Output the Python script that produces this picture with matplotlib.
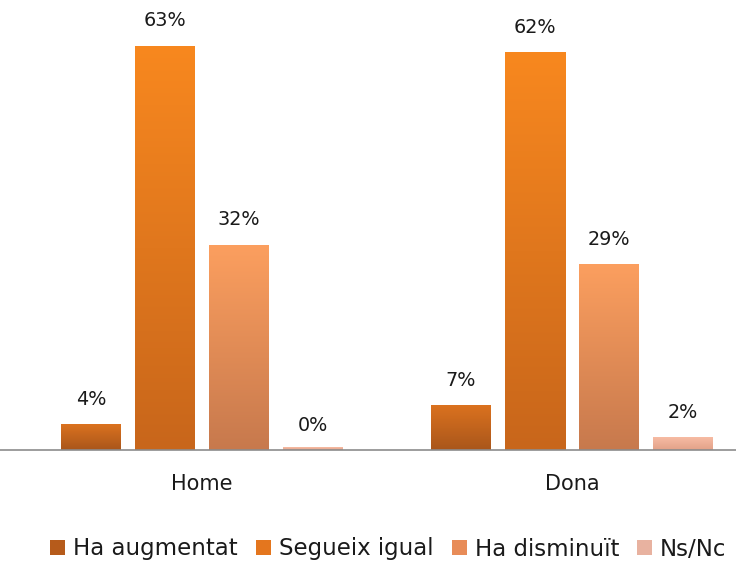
import matplotlib
matplotlib.use("Agg")
import matplotlib.pyplot as plt
import numpy as np
from matplotlib.colors import LinearSegmentedColormap
from matplotlib.patches import Patch

plt.rcParams['font.family'] = ['DejaVu Sans']

categories = ["Home", "Dona"]
series = ["Ha augmentat", "Segueix igual", "Ha disminuït", "Ns/Nc"]
values = {
    "Ha augmentat": [4, 7],
    "Segueix igual": [63, 62],
    "Ha disminuït": [32, 29],
    "Ns/Nc": [0, 2],
}
labels = {
    "Ha augmentat": ["4%", "7%"],
    "Segueix igual": ["63%", "62%"],
    "Ha disminuït": ["32%", "29%"],
    "Ns/Nc": ["0%", "2%"],
}
# (top colour, bottom colour) for the vertical gradient of each series
grad = {
    "Ha augmentat": ("#DB721F", "#A9561B"),
    "Segueix igual": ("#F8881F", "#C8661B"),
    "Ha disminuït": ("#FC9F5F", "#C7794D"),
    "Ns/Nc": ("#F7BCA3", "#E2A189"),
}
legend_col = {
    "Ha augmentat": "#B65B1B",
    "Segueix igual": "#E4761E",
    "Ha disminuït": "#E88C58",
    "Ns/Nc": "#E8B2A0",
}

W, H = 736, 565
fig = plt.figure(figsize=(W / 100, H / 100), dpi=100)
base_px = 450
top_px = 0
ax = fig.add_axes([0, (H - base_px) / H, 1, (base_px - top_px) / H])

bar_w = 60 / 370
step = 74 / 370
x = np.arange(len(categories))
offsets = (np.arange(len(series)) - 1.5) * step

for i, s in enumerate(series):
    bars = ax.bar(x + offsets[i], values[s], width=bar_w, facecolor="none",
                  edgecolor="none", zorder=2)
    cmap = LinearSegmentedColormap.from_list(s, [grad[s][1], grad[s][0]])
    for b, lab in zip(bars, labels[s]):
        x0, w, h = b.get_x(), b.get_width(), b.get_height()
        hh = max(h, 0.35)
        g = np.linspace(0, 1, 256).reshape(-1, 1)
        im = ax.imshow(g, cmap=cmap, origin="lower", aspect="auto",
                       extent=(x0, x0 + w, 0, hh), zorder=2)
        if h > 0:
            im.set_clip_path(b)
        ax.annotate(lab, (x0 + w / 2, h), xytext=(0, 11), textcoords="offset points",
                    ha="center", va="bottom", fontsize=13.8, color="#1a1a1a")

ax.set_xlim(-202 / 370, (W - 202) / 370)
ax.set_ylim(0, (base_px - top_px) / 6.42)
for sp in ["top", "right", "left"]:
    ax.spines[sp].set_visible(False)
ax.spines["bottom"].set_color("#8c8c8c")
ax.spines["bottom"].set_linewidth(1.2)
ax.set_yticks([])
ax.set_xticks(x)
ax.set_xticklabels(categories, fontsize=15, color="#1a1a1a")
ax.tick_params(axis="x", length=0, pad=17.5)

handles = [Patch(facecolor=legend_col[s], edgecolor="none") for s in series]
fig.legend(handles, series, loc="center left", bbox_to_anchor=(50 / W, 1 - 549 / H),
           ncol=4, frameon=False, fontsize=16.5, handlelength=0.65, handleheight=0.65,
           handletextpad=0.35, columnspacing=0.8, borderaxespad=0, borderpad=0,
           labelcolor="#1a1a1a")

fig.savefig("out.png", dpi=100)
